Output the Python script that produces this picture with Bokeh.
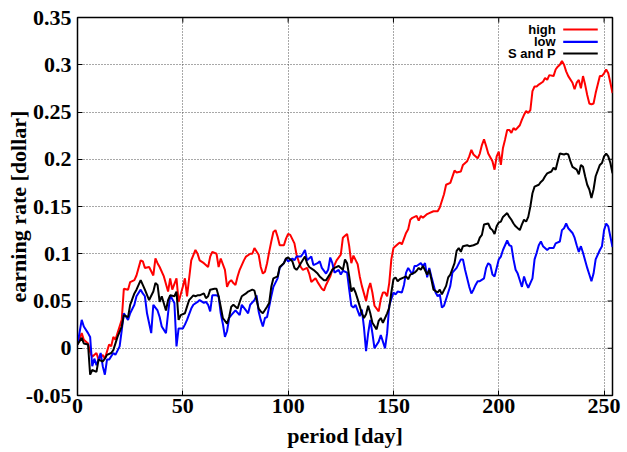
from bokeh.plotting import figure
from bokeh.models import Range1d, FixedTicker, Label, BoxAnnotation
from bokeh.embed import file_html
from bokeh.resources import INLINE

# ---------------- data ----------------
days_high = [0, 2, 3, 5, 6, 7, 9, 10, 12, 13, 15, 16, 17, 18, 19, 21, 22, 24, 25, 27, 28, 30, 31, 32, 34, 36, 37, 38, 39, 41,
             43, 44, 45, 47, 48, 50, 51, 52, 54, 56, 57, 58, 60, 62, 63, 64, 66, 67, 68, 70, 71, 72, 73, 74, 75, 76, 77, 79, 80, 82,
             83, 84, 86, 87, 88, 89, 90, 91, 92, 93, 94, 95, 96, 98, 99, 100, 101, 103, 104, 105, 106, 107, 109, 110, 111, 113, 114, 116, 117, 118,
             120, 121, 123, 125, 126, 127, 128, 129, 130, 131, 133, 134, 135, 137, 138, 139, 140, 141, 143, 144, 145, 146, 147, 148, 149, 150, 152, 153, 154, 156,
             157, 158, 159, 161, 162, 163, 164, 166, 167, 169, 171, 172, 174, 175, 177, 179, 180, 182, 183, 185, 186, 187, 188, 190, 191, 192, 193, 194, 195, 197,
             198, 199, 200, 201, 202, 203, 204, 205, 206, 207, 208, 210, 211, 212, 213, 214, 215, 216, 217, 218, 219, 221, 222, 223, 224, 226, 227, 228, 229, 230,
             231, 232, 233, 235, 236, 237, 238, 239, 240, 241, 242, 243, 244, 245, 246, 248, 249, 250, 251, 252, 253, 254]
high = [0.004, 0.016, 0.009, 0.005, -0.004, -0.009, -0.005, -0.012, -0.007, -0.011, 0.004, 0.002, 0.012, 0.009, 0.016, 0.030, 0.063, 0.062, 0.070, 0.072, 0.077, 0.093, 0.092, 0.085, 0.086, 0.077, 0.095, 0.090, 0.086, 0.076,
        0.060, 0.074, 0.062, 0.074, 0.049, 0.065, 0.074, 0.055, 0.093, 0.104, 0.100, 0.093, 0.090, 0.086, 0.097, 0.102, 0.100, 0.086, 0.095, 0.083, 0.065, 0.070, 0.072, 0.069, 0.067, 0.076, 0.083, 0.093, 0.097, 0.100,
        0.100, 0.106, 0.099, 0.086, 0.079, 0.081, 0.090, 0.102, 0.113, 0.123, 0.125, 0.118, 0.109, 0.109, 0.116, 0.121, 0.120, 0.111, 0.099, 0.092, 0.086, 0.083, 0.085, 0.079, 0.070, 0.074, 0.070, 0.063, 0.061, 0.067,
        0.076, 0.083, 0.093, 0.099, 0.117, 0.119, 0.121, 0.108, 0.090, 0.098, 0.089, 0.076, 0.066, 0.050, 0.062, 0.069, 0.059, 0.045, 0.039, 0.052, 0.059, 0.059, 0.055, 0.069, 0.094, 0.106, 0.110, 0.112, 0.110, 0.122,
        0.126, 0.136, 0.138, 0.140, 0.135, 0.140, 0.138, 0.142, 0.143, 0.145, 0.145, 0.149, 0.163, 0.173, 0.175, 0.188, 0.186, 0.187, 0.194, 0.198, 0.203, 0.210, 0.205, 0.201, 0.206, 0.215, 0.221, 0.214, 0.206, 0.198,
        0.189, 0.203, 0.208, 0.194, 0.212, 0.221, 0.231, 0.231, 0.228, 0.233, 0.231, 0.236, 0.242, 0.247, 0.251, 0.249, 0.252, 0.272, 0.277, 0.277, 0.279, 0.282, 0.286, 0.284, 0.289, 0.288, 0.295, 0.298, 0.300, 0.304,
        0.300, 0.293, 0.288, 0.281, 0.274, 0.281, 0.284, 0.275, 0.288, 0.279, 0.268, 0.259, 0.258, 0.259, 0.270, 0.288, 0.288, 0.291, 0.295, 0.291, 0.281, 0.270]

days_low = [0, 2, 3, 5, 6, 7, 8, 9, 11, 12, 13, 14, 15, 17, 18, 20, 21, 22, 24, 25, 27, 28, 30, 31, 32, 33, 35, 36, 38, 39,
            40, 42, 43, 44, 46, 47, 48, 50, 51, 52, 54, 55, 57, 58, 60, 61, 62, 63, 64, 66, 67, 68, 69, 70, 71, 72, 73, 75, 77, 78,
            80, 81, 82, 84, 85, 86, 87, 88, 89, 90, 92, 93, 95, 96, 98, 99, 100, 102, 103, 104, 106, 107, 108, 109, 111, 112, 114, 115, 116, 118,
            119, 120, 121, 122, 124, 125, 126, 128, 129, 130, 131, 132, 134, 135, 136, 137, 138, 139, 140, 141, 143, 144, 145, 146, 147, 148, 150, 151, 152, 154,
            155, 156, 157, 159, 160, 161, 163, 164, 165, 166, 167, 168, 170, 171, 172, 173, 174, 176, 177, 178, 180, 182, 183, 184, 186, 187, 188, 189, 190, 191,
            193, 194, 195, 196, 197, 198, 199, 200, 201, 202, 204, 205, 206, 207, 208, 209, 210, 211, 212, 213, 214, 216, 217, 218, 219, 220, 221, 223, 224, 225,
            226, 227, 229, 230, 231, 232, 233, 235, 236, 237, 238, 239, 240, 242, 243, 244, 245, 246, 248, 249, 250, 251, 252, 253, 254]
low = [0.004, 0.030, 0.023, 0.016, 0.012, -0.019, -0.011, -0.018, -0.005, -0.019, -0.028, -0.012, -0.012, -0.005, -0.007, 0.002, 0.019, 0.037, 0.030, 0.037, 0.046, 0.055, 0.062, 0.058, 0.055, 0.037, 0.016, 0.046, 0.040, 0.033,
       0.023, 0.016, 0.037, 0.056, 0.048, 0.002, 0.021, 0.021, 0.025, 0.030, 0.042, 0.046, 0.049, 0.051, 0.048, 0.049, 0.046, 0.039, 0.056, 0.056, 0.055, 0.037, 0.026, 0.012, 0.018, 0.032, 0.035, 0.040, 0.035, 0.046,
       0.040, 0.037, 0.046, 0.051, 0.056, 0.039, 0.030, 0.023, 0.032, 0.033, 0.055, 0.065, 0.074, 0.085, 0.090, 0.095, 0.092, 0.095, 0.093, 0.097, 0.097, 0.100, 0.104, 0.093, 0.097, 0.088, 0.090, 0.092, 0.085, 0.079,
       0.083, 0.096, 0.090, 0.080, 0.083, 0.078, 0.082, 0.080, 0.062, 0.045, 0.043, 0.046, 0.034, 0.041, 0.022, -0.003, 0.016, 0.030, 0.016, 0.000, 0.007, 0.014, 0.007, 0.000, 0.016, 0.045, 0.059, 0.057, 0.060, 0.059,
       0.067, 0.080, 0.085, 0.078, 0.087, 0.087, 0.090, 0.087, 0.090, 0.075, 0.085, 0.076, 0.059, 0.055, 0.057, 0.043, 0.045, 0.059, 0.066, 0.080, 0.085, 0.094, 0.094, 0.083, 0.065, 0.058, 0.062, 0.067, 0.071, 0.071,
       0.074, 0.085, 0.090, 0.088, 0.078, 0.076, 0.085, 0.094, 0.097, 0.104, 0.114, 0.109, 0.108, 0.094, 0.083, 0.079, 0.072, 0.065, 0.076, 0.069, 0.064, 0.074, 0.094, 0.101, 0.109, 0.113, 0.108, 0.104, 0.106, 0.106,
       0.106, 0.111, 0.113, 0.125, 0.127, 0.132, 0.127, 0.122, 0.117, 0.109, 0.102, 0.108, 0.101, 0.085, 0.078, 0.071, 0.079, 0.094, 0.104, 0.108, 0.125, 0.132, 0.129, 0.118, 0.107]

days_sp = [0, 2, 3, 5, 6, 7, 9, 10, 12, 13, 14, 16, 17, 19, 21, 22, 24, 25, 27, 28, 30, 31, 32, 34, 36, 37, 38, 39, 40, 42,
           43, 44, 46, 47, 48, 49, 51, 52, 53, 55, 56, 57, 58, 60, 61, 62, 63, 65, 66, 67, 68, 69, 71, 72, 73, 74, 76, 77, 78, 80,
           81, 83, 84, 86, 87, 88, 90, 91, 92, 93, 95, 96, 98, 99, 100, 102, 103, 104, 105, 106, 108, 109, 110, 112, 114, 115, 117, 118, 120, 121,
           122, 124, 126, 127, 128, 129, 130, 131, 132, 133, 135, 136, 137, 138, 139, 140, 142, 143, 144, 145, 147, 148, 149, 150, 151, 152, 153, 155, 156, 157,
           158, 160, 161, 162, 163, 164, 166, 167, 168, 169, 171, 172, 173, 175, 176, 177, 179, 180, 181, 182, 183, 185, 186, 188, 190, 191, 192, 193, 195, 196,
           197, 198, 199, 200, 201, 202, 204, 205, 206, 207, 208, 210, 211, 212, 213, 214, 215, 216, 217, 219, 220, 221, 222, 223, 225, 226, 227, 228, 229, 231,
           232, 233, 234, 235, 237, 238, 239, 240, 241, 242, 243, 244, 245, 246, 248, 249, 250, 251, 252, 253, 254]
sp = [0.004, 0.011, 0.005, 0.004, -0.028, -0.023, -0.025, -0.012, -0.014, -0.011, -0.007, -0.005, -0.002, 0.012, 0.023, 0.035, 0.033, 0.046, 0.058, 0.062, 0.072, 0.067, 0.062, 0.051, 0.060, 0.069, 0.067, 0.049, 0.055, 0.040,
      0.051, 0.056, 0.055, 0.060, 0.030, 0.035, 0.037, 0.044, 0.051, 0.056, 0.055, 0.056, 0.056, 0.058, 0.053, 0.055, 0.062, 0.063, 0.063, 0.055, 0.044, 0.032, 0.026, 0.033, 0.044, 0.046, 0.042, 0.049, 0.055, 0.058,
      0.060, 0.062, 0.061, 0.042, 0.039, 0.037, 0.044, 0.048, 0.065, 0.074, 0.076, 0.086, 0.090, 0.095, 0.096, 0.092, 0.085, 0.083, 0.086, 0.090, 0.097, 0.090, 0.086, 0.083, 0.079, 0.076, 0.072, 0.072, 0.079, 0.083,
      0.085, 0.087, 0.083, 0.094, 0.090, 0.076, 0.060, 0.064, 0.059, 0.052, 0.037, 0.032, 0.036, 0.045, 0.037, 0.027, 0.020, 0.029, 0.032, 0.027, 0.037, 0.043, 0.059, 0.073, 0.075, 0.071, 0.073, 0.075, 0.076, 0.073,
      0.078, 0.080, 0.082, 0.085, 0.083, 0.087, 0.078, 0.083, 0.073, 0.062, 0.059, 0.062, 0.057, 0.066, 0.075, 0.078, 0.090, 0.103, 0.106, 0.102, 0.108, 0.109, 0.108, 0.109, 0.111, 0.117, 0.120, 0.131, 0.132, 0.127,
      0.125, 0.121, 0.129, 0.133, 0.134, 0.139, 0.143, 0.139, 0.136, 0.132, 0.129, 0.125, 0.131, 0.136, 0.134, 0.139, 0.150, 0.164, 0.171, 0.173, 0.176, 0.178, 0.182, 0.185, 0.187, 0.191, 0.189, 0.198, 0.206, 0.205,
      0.206, 0.205, 0.198, 0.192, 0.189, 0.184, 0.194, 0.192, 0.182, 0.173, 0.168, 0.159, 0.168, 0.182, 0.194, 0.196, 0.203, 0.206, 0.203, 0.196, 0.185]

series_names = ["high", "low", "S and P"]
series_colors = ["#ff0000", "#0000ff", "#000000"]

x_ticks = [0, 50, 100, 150, 200, 250]
x_tick_labels = ["0", "50", "100", "150", "200", "250"]
y_ticks = [-0.05, 0.0, 0.05, 0.1, 0.15, 0.2, 0.25, 0.3, 0.35]
y_tick_labels = ["-0.05", "0", "0.05", "0.1", "0.15", "0.2", "0.25", "0.3", "0.35"]

X_MIN, X_MAX = 0, 254
Y_MIN, Y_MAX = -0.05, 0.35

# ---------------- figure ----------------
SERIF = "Liberation Serif"
p = figure(width=627, height=452, output_backend="svg", toolbar_location=None,
           x_range=Range1d(X_MIN, X_MAX), y_range=Range1d(Y_MIN, Y_MAX),
           min_border_left=77, min_border_right=15, min_border_top=17, min_border_bottom=57,
           x_axis_label="period [day]", y_axis_label="earning rate [dollar]")
p.background_fill_color = "white"
p.border_fill_color = "white"
p.outline_line_color = "black"
p.outline_line_width = 1.5

xa = p.xaxis[0]
ya = p.yaxis[0]
xa.ticker = FixedTicker(ticks=x_ticks)
ya.ticker = FixedTicker(ticks=y_ticks)
xa.major_label_overrides = {t: s for t, s in zip(x_ticks, x_tick_labels)}
ya.major_label_overrides = {t: s for t, s in zip(y_ticks, y_tick_labels)}
for ax in (xa, ya):
    ax.major_label_text_font = SERIF
    ax.major_label_text_font_size = "22px"
    ax.major_label_text_font_style = "bold"
    ax.major_label_text_color = "black"
    ax.axis_label_text_font = SERIF
    ax.axis_label_text_font_size = "22px"
    ax.axis_label_text_font_style = "bold"
    ax.axis_label_text_color = "black"
    ax.major_tick_in = 5
    ax.major_tick_out = 0
    ax.minor_tick_in = 0
    ax.minor_tick_out = 0
    ax.axis_line_color = "black"
    ax.major_tick_line_color = "black"
xa.major_label_standoff = 3
xa.axis_label_standoff = 7
ya.major_label_standoff = 6
ya.axis_label_standoff = -8

# mirrored inward tick marks on the top and right borders (gnuplot style)
px_x = (X_MAX - X_MIN) / 535.0
px_y = (Y_MAX - Y_MIN) / 378.0
for t in x_ticks:
    p.add_layout(BoxAnnotation(left=t - 0.5 * px_x, right=t + 0.5 * px_x, top=Y_MAX, bottom=Y_MAX - 5 * px_y,
                               fill_color="black", fill_alpha=1.0, line_alpha=0))
for t in y_ticks:
    p.add_layout(BoxAnnotation(left=X_MAX - 5 * px_x, right=X_MAX, top=t + 0.5 * px_y, bottom=t - 0.5 * px_y,
                               fill_color="black", fill_alpha=1.0, line_alpha=0))

p.xgrid.ticker = FixedTicker(ticks=x_ticks)
p.ygrid.ticker = FixedTicker(ticks=y_ticks)
for g in (p.xgrid[0], p.ygrid[0]):
    g.grid_line_color = "#505050"
    g.grid_line_dash = "1 2"
    g.grid_line_width = 1

for xs, ys, c in ((days_high, high, series_colors[0]),
                  (days_low, low, series_colors[1]),
                  (days_sp, sp, series_colors[2])):
    p.line(xs, ys, line_color=c, line_width=2)

# legend (gnuplot style: label, then line sample to the right)
leg_y = [0.3373, 0.3242, 0.3119]
for name, c, yy in zip(series_names, series_colors, leg_y):
    p.add_layout(Label(x=227.0, y=yy, text=name, text_align="right", text_baseline="middle",
                       text_font="Liberation Sans", text_font_style="bold",
                       text_font_size="13px", text_color="black"))
    p.add_layout(BoxAnnotation(left=230.6, right=247.0, bottom=yy - 0.0011, top=yy + 0.0011,
                               fill_color=c, fill_alpha=1.0, line_alpha=0))

open("out.html", "w").write(file_html(p, INLINE))
